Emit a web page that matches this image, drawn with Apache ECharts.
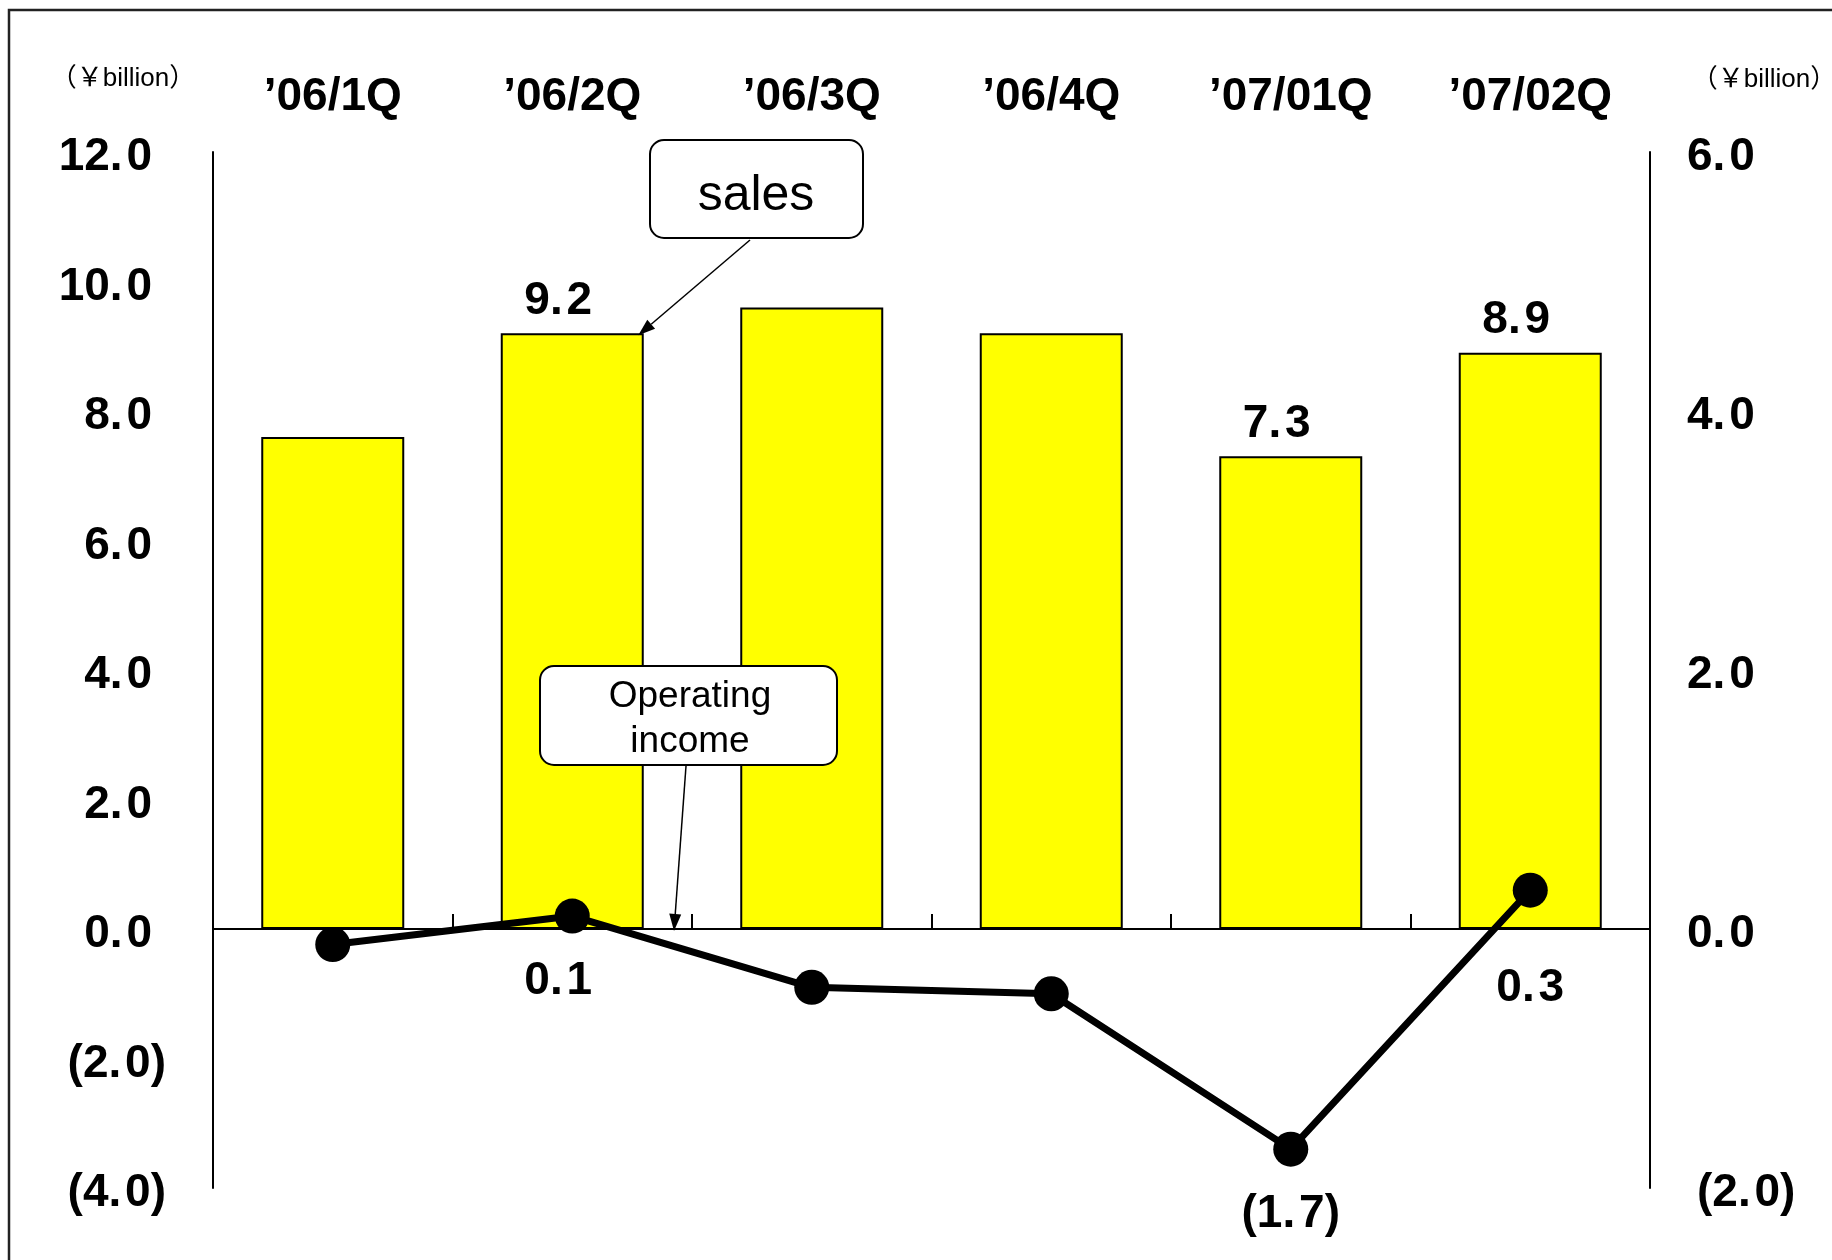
<!DOCTYPE html>
<html>
<head>
<meta charset="utf-8">
<script src="https://cdn.jsdelivr.net/npm/echarts@6/dist/echarts.min.js"></script>
<style>
  html, body { margin: 0; padding: 0; background: #fff; }
  #chart { width: 1832px; height: 1260px; }
</style>
</head>
<body>
<div id="chart"></div>
<script>
// Quarterly sales (left axis, ¥billion) and operating income (right axis, ¥billion)
const quarters = ['’06/1Q', '’06/2Q', '’06/3Q', '’06/4Q', '’07/01Q', '’07/02Q'];
const sales = [7.6, 9.2, 9.6, 9.2, 7.3, 8.9];
const operatingIncome = [-0.12, 0.1, -0.45, -0.5, -1.7, 0.3];
const salesLabelled = [1, 4, 5];
const incomeLabelled = [1, 4, 5];
const leftAxisRange = [-4, 12, 2];
const rightAxisRange = [-2, 6, 2];
const unitText = '（￥billion）';

const NUM_FONT = "'Liberation Sans', Arial, sans-serif";
const TEXT_FONT = "'Liberation Sans', Arial, sans-serif";
const UNIT_FONT = "'Liberation Sans', 'Noto Sans CJK JP', sans-serif";

// 1 decimal, negatives in parentheses, a hair space after the point
function fmt(v) {
  const s = Math.abs(v).toFixed(1).replace('.', '.\u200A');
  return v < 0 ? '(' + s + ')' : s;
}

const numStyle = { fontFamily: NUM_FONT, fontWeight: 'bold', fontSize: 46, color: '#000' };

const chart = echarts.init(document.getElementById('chart'), null, { renderer: 'canvas' });

const option = {
  animation: false,
  backgroundColor: '#fff',
  grid: { left: 213, right: 182, top: 152, bottom: 72 },
  xAxis: [
    {
      type: 'category',
      data: quarters,
      position: 'bottom',
      axisLine: { onZero: true, onZeroAxisIndex: 0, lineStyle: { color: '#000', width: 2 } },
      axisTick: { show: true, inside: true, length: 15, lineStyle: { color: '#000', width: 2 } },
      axisLabel: { show: false },
      splitLine: { show: false }
    },
    {
      type: 'category',
      data: quarters,
      position: 'top',
      axisLine: { show: false, onZero: false },
      axisTick: { show: false },
      axisLabel: Object.assign({ margin: 32 }, numStyle),
      splitLine: { show: false }
    }
  ],
  yAxis: [
    {
      type: 'value',
      position: 'left',
      min: leftAxisRange[0], max: leftAxisRange[1], interval: leftAxisRange[2],
      axisLine: { show: true, onZero: false, lineStyle: { color: '#000', width: 2 } },
      axisTick: { show: false },
      splitLine: { show: false },
      axisLabel: {
        margin: 47,
        formatter: v => (v < 0 ? '{n|' + fmt(v) + '}' : '{p|' + fmt(v) + '}'),
        rich: {
          p: Object.assign({ padding: [11, 14, 0, 0] }, numStyle),
          n: Object.assign({ padding: [11, 0, 0, 0] }, numStyle)
        }
      }
    },
    {
      type: 'value',
      position: 'right',
      min: rightAxisRange[0], max: rightAxisRange[1], interval: rightAxisRange[2],
      axisLine: { show: true, onZero: false, lineStyle: { color: '#000', width: 2 } },
      axisTick: { show: false },
      splitLine: { show: false },
      axisLabel: {
        margin: 37,
        formatter: v => (v < 0 ? '{n|' + fmt(v) + '}' : '{p|' + fmt(v) + '}'),
        rich: {
          p: Object.assign({ padding: [11, 0, 0, 0] }, numStyle),
          n: Object.assign({ padding: [11, 0, 0, 10] }, numStyle)
        }
      }
    }
  ],
  series: [
    {
      name: 'sales',
      type: 'bar',
      xAxisIndex: 0,
      yAxisIndex: 0,
      barWidth: 143,
      z: 2,
      itemStyle: { color: '#FFFF00', borderColor: '#000', borderWidth: 2 },
      data: sales.map((v, i) => ({
        value: v,
        label: {
          show: salesLabelled.includes(i),
          position: 'top',
          distance: 9,
          offset: [-14, 0],
          formatter: p => fmt(p.value),
          ...numStyle
        }
      }))
    },
    {
      name: 'Operating income',
      type: 'line',
      xAxisIndex: 0,
      yAxisIndex: 1,
      z: 5,
      symbol: 'circle',
      symbolSize: 35,
      lineStyle: { color: '#000', width: 7 },
      itemStyle: { color: '#000' },
      data: operatingIncome.map((v, i) => ({
        value: v,
        label: {
          show: incomeLabelled.includes(i),
          position: 'bottom',
          distance: i === 5 ? 58 : 25,
          offset: i === 1 ? [-14, 0] : [0, 0],
          formatter: p => fmt(p.value),
          ...numStyle
        }
      }))
    }
  ]
};

chart.setOption(option);

// Callout arrow: shaft plus filled head ending at (x2, y2)
function arrow(x1, y1, x2, y2) {
  const ang = Math.atan2(y2 - y1, x2 - x1);
  const len = 17, half = 6;
  const bx = x2 - len * Math.cos(ang), by = y2 - len * Math.sin(ang);
  const nx = -Math.sin(ang) * half, ny = Math.cos(ang) * half;
  return [
    { type: 'line', z: 20, shape: { x1: x1, y1: y1, x2: bx, y2: by }, style: { stroke: '#000', lineWidth: 1.5 } },
    { type: 'polygon', z: 20, shape: { points: [[x2, y2], [bx + nx, by + ny], [bx - nx, by - ny]] }, style: { fill: '#000' } }
  ];
}

const barTop = chart.convertToPixel({ xAxisIndex: 0, yAxisIndex: 0 }, [1, sales[1]]);
const zeroPt = chart.convertToPixel({ xAxisIndex: 0, yAxisIndex: 0 }, [1, 0]);

const graphics = [
  // outer frame
  { type: 'rect', z: 0, shape: { x: 9, y: 10, width: 1900, height: 1300 }, style: { fill: 'none', stroke: '#222', lineWidth: 2.5 } },
  // unit captions
  { type: 'text', z: 20, x: 123, y: 79, style: { text: unitText, font: '26px ' + UNIT_FONT, fill: '#000', align: 'center', verticalAlign: 'middle' } },
  { type: 'text', z: 20, x: 1764, y: 80, style: { text: unitText, font: '26px ' + UNIT_FONT, fill: '#000', align: 'center', verticalAlign: 'middle' } },
  // "sales" callout
  { type: 'rect', z: 20, shape: { x: 650, y: 140, width: 213, height: 98, r: 14 }, style: { fill: '#fff', stroke: '#000', lineWidth: 2 } },
  { type: 'text', z: 21, x: 756, y: 196, style: { text: 'sales', font: '50px ' + TEXT_FONT, fill: '#000', align: 'center', verticalAlign: 'middle' } },
  ...arrow(750, 240, barTop[0] + 66, barTop[1] + 2),
  // "Operating income" callout
  { type: 'rect', z: 20, shape: { x: 540, y: 666, width: 297, height: 99, r: 14 }, style: { fill: '#fff', stroke: '#000', lineWidth: 2 } },
  { type: 'text', z: 21, x: 690, y: 719, style: { text: 'Operating\nincome', font: '37px ' + TEXT_FONT, lineHeight: 45, fill: '#000', align: 'center', verticalAlign: 'middle' } },
  ...arrow(686, 766, 674, zeroPt[1] + 2)
];

chart.setOption({ graphic: graphics });
</script>
</body>
</html>
